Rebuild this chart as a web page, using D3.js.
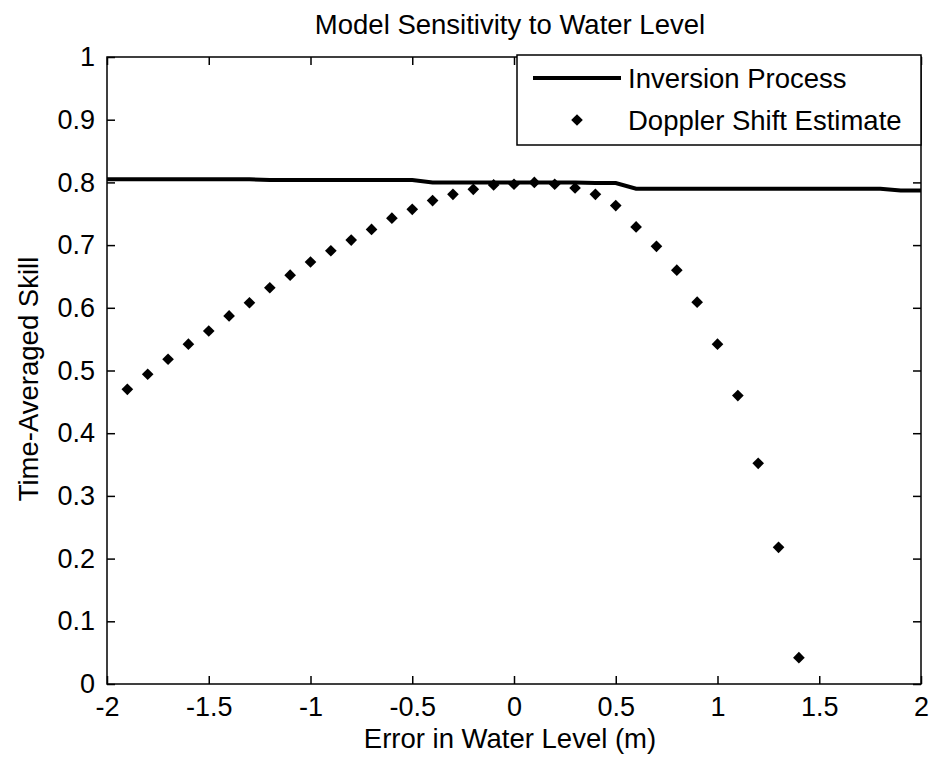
<!DOCTYPE html>
<html>
<head>
<meta charset="utf-8">
<script src="https://cdn.jsdelivr.net/npm/d3@7"></script>
<style>
  html, body { margin: 0; padding: 0; background: #fff; }
  svg text { font-family: "Liberation Sans", Arial, sans-serif; fill: #000; }
</style>
</head>
<body>
<svg id="chart" width="932" height="759"></svg>
<script>
// Water-level error (m) at which the Doppler shift estimate was evaluated
const dopplerX = [-1.9, -1.8, -1.7, -1.6, -1.5, -1.4, -1.3, -1.2, -1.1, -1.0,
                  -0.9, -0.8, -0.7, -0.6, -0.5, -0.4, -0.3, -0.2, -0.1, 0.0,
                   0.1, 0.2, 0.3, 0.4, 0.5, 0.6, 0.7, 0.8, 0.9, 1.0,
                   1.1, 1.2, 1.3, 1.4];
const dopplerSkill = [0.470, 0.494, 0.518, 0.542, 0.563, 0.587, 0.608, 0.632, 0.652, 0.673,
                      0.691, 0.708, 0.725, 0.743, 0.757, 0.771, 0.781, 0.789, 0.796, 0.797,
                      0.800, 0.797, 0.791, 0.781, 0.763, 0.729, 0.698, 0.660, 0.609, 0.542,
                      0.460, 0.352, 0.218, 0.042];

// Inversion process skill across the full range of water-level errors
const inversionX = [-2.0, -1.9, -1.8, -1.7, -1.6, -1.5, -1.4, -1.3, -1.2, -1.1,
                    -1.0, -0.9, -0.8, -0.7, -0.6, -0.5, -0.4, -0.3, -0.2, -0.1,
                     0.0, 0.1, 0.2, 0.3, 0.4, 0.5, 0.6, 0.7, 0.8, 0.9,
                     1.0, 1.1, 1.2, 1.3, 1.4, 1.5, 1.6, 1.7, 1.8, 1.9, 2.0];
const inversionSkill = [0.805, 0.805, 0.805, 0.805, 0.805, 0.805, 0.805, 0.805, 0.804, 0.804,
                        0.804, 0.804, 0.804, 0.804, 0.804, 0.804, 0.800, 0.800, 0.800, 0.800,
                        0.800, 0.800, 0.800, 0.800, 0.799, 0.799, 0.790, 0.790, 0.790, 0.790,
                        0.790, 0.790, 0.790, 0.790, 0.790, 0.790, 0.790, 0.790, 0.790, 0.787, 0.787];

const xTicks = [-2, -1.5, -1, -0.5, 0, 0.5, 1, 1.5, 2];
const yTicks = [0, 0.1, 0.2, 0.3, 0.4, 0.5, 0.6, 0.7, 0.8, 0.9, 1];

const seriesNames = ["Inversion Process", "Doppler Shift Estimate"];
const titleText = "Model Sensitivity to Water Level";
const xLabelText = "Error in Water Level (m)";
const yLabelText = "Time-Averaged Skill";

const svg = d3.select("#chart");
const plot = { left: 107, right: 921, top: 57, bottom: 684 };
const fontSize = 27.5;
const tickFontSize = 27;
// Plain hyphen-minus, as in the tick labels
const tickText = d => String(d);

const x = d3.scaleLinear().domain([-2, 2]).range([plot.left, plot.right]);
const y = d3.scaleLinear().domain([0, 1]).range([plot.bottom, plot.top]);

svg.append("rect").attr("width", 932).attr("height", 759).attr("fill", "#fff");

// Axes: ticks point inward on all four sides, labels only on bottom and left
function styleAxis(g) {
  g.select(".domain").remove();
  g.selectAll(".tick line").attr("stroke", "#000").attr("stroke-width", 1.5);
  g.selectAll(".tick text").attr("font-size", tickFontSize).attr("font-family", null);
}

svg.append("g")
  .attr("transform", `translate(0,${plot.bottom})`)
  .call(d3.axisBottom(x).tickValues(xTicks).tickSizeInner(-8).tickSizeOuter(0)
        .tickPadding(13).tickFormat(tickText))
  .call(styleAxis);

svg.append("g")
  .attr("transform", `translate(0,${plot.top})`)
  .call(d3.axisTop(x).tickValues(xTicks).tickSizeInner(-8).tickSizeOuter(0).tickFormat(""))
  .call(styleAxis);

svg.append("g")
  .attr("transform", `translate(${plot.left},0)`)
  .call(d3.axisLeft(y).tickValues(yTicks).tickSizeInner(-8).tickSizeOuter(0)
        .tickPadding(12).tickFormat(tickText))
  .call(styleAxis);

svg.append("g")
  .attr("transform", `translate(${plot.right},0)`)
  .call(d3.axisRight(y).tickValues(yTicks).tickSizeInner(-8).tickSizeOuter(0).tickFormat(""))
  .call(styleAxis);

// Plot frame
svg.append("rect")
  .attr("x", plot.left).attr("y", plot.top)
  .attr("width", plot.right - plot.left).attr("height", plot.bottom - plot.top)
  .attr("fill", "none").attr("stroke", "#000").attr("stroke-width", 1.5);

// Inversion process line
const inversion = inversionX.map((v, i) => [v, inversionSkill[i]]);
svg.append("path")
  .datum(inversion)
  .attr("fill", "none")
  .attr("stroke", "#000")
  .attr("stroke-width", 4)
  .attr("d", d3.line().x(d => x(d[0])).y(d => y(d[1])));

// Doppler shift estimate markers (filled diamonds)
const diamond = d3.symbol().type(d3.symbolSquare).size(68);
const doppler = dopplerX.map((v, i) => [v, dopplerSkill[i]]);
svg.append("g").selectAll("path")
  .data(doppler)
  .join("path")
  .attr("d", diamond)
  .attr("fill", "#000")
  .attr("transform", d => `translate(${x(d[0])},${y(d[1])}) rotate(45)`);

// Title and axis labels
svg.append("text")
  .attr("x", 510).attr("y", 34)
  .attr("text-anchor", "middle").attr("font-size", fontSize)
  .text(titleText);

svg.append("text")
  .attr("x", 510).attr("y", 748)
  .attr("text-anchor", "middle").attr("font-size", fontSize)
  .text(xLabelText);

svg.append("text")
  .attr("transform", "translate(38,379) rotate(-90)")
  .attr("text-anchor", "middle").attr("font-size", fontSize)
  .text(yLabelText);

// Legend
const legend = svg.append("g");
legend.append("rect")
  .attr("x", 517).attr("y", 55).attr("width", plot.right - 517).attr("height", 90)
  .attr("fill", "#fff").attr("stroke", "#000").attr("stroke-width", 1.5);
legend.append("line")
  .attr("x1", 533).attr("x2", 621).attr("y1", 78).attr("y2", 78)
  .attr("stroke", "#000").attr("stroke-width", 4);
legend.append("path")
  .attr("d", diamond)
  .attr("fill", "#000")
  .attr("transform", "translate(577,120) rotate(45)");
legend.selectAll("text.entry")
  .data(seriesNames)
  .join("text")
  .attr("class", "entry")
  .attr("x", 628)
  .attr("y", (d, i) => 88 + i * 42)
  .attr("font-size", fontSize)
  .text(d => d);
</script>
</body>
</html>
